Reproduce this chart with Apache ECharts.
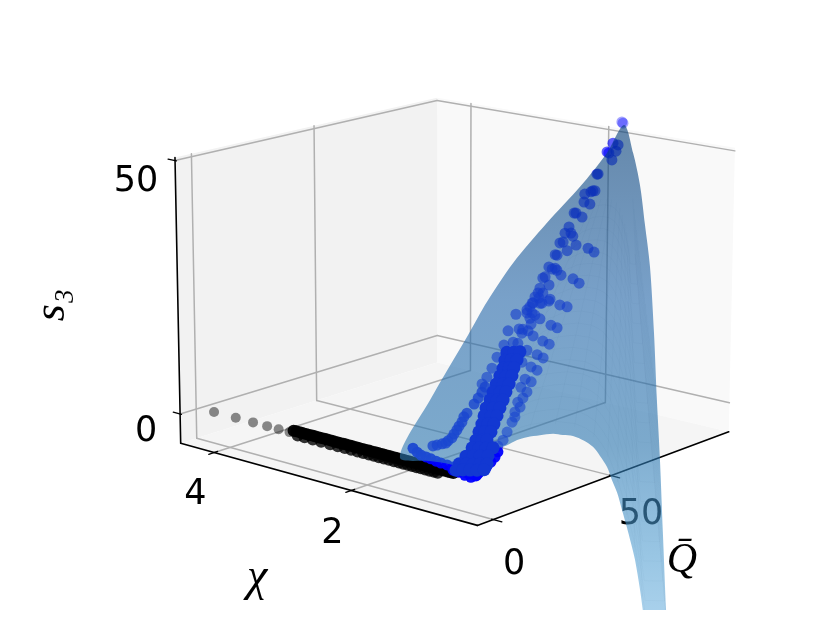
<!DOCTYPE html>
<html><head><meta charset="utf-8"><style>html,body{margin:0;background:#fff}#c{width:830px;height:623px}</style>
<script src="https://cdn.jsdelivr.net/npm/echarts@6/dist/echarts.min.js"></script></head><body><div id="c"></div>
<script>
// axis limits and ticks
const qLim=[-6.42,104.2], chiLim=[0.286,4.514], s3Lim=[-5.87,50.59];
const qTicks=[0,50], chiTicks=[2,4], s3Ticks=[0,50];
const qTickLabels=['0','50'], chiTickLabels=['2','4'], s3TickLabels=['0','50'];
// grey/black points: chi along the line Q≈1.3, s3≈0
const blackQ=1.3;
const blackSparseChi=[4.29,3.96,3.7,3.49,3.32,3.16];
const blackUpperChi=[3.1,3.06,3.01,2.97,2.92,2.88,2.83,2.79,2.74,2.7,2.65,2.61,2.56,2.52,2.47,2.43,2.38,2.34,2.29,2.25,2.2,2.16,2.11,2.07,2.02,1.98,1.93,1.89,1.84,1.8,1.75,1.71,1.66,1.62,1.57,1.53,1.48,1.44,1.39,1.35,1.3,1.26,1.21,1.17,1.12,1.08,1.03,0.99,0.94,0.9,0.86];
const blackLowerChi=[3.04,2.94,2.82,2.7,2.57,2.46,2.36,2.27,2.18,2.1,2.02,1.95,1.88,1.81,1.74,1.67,1.6,1.54,1.48,1.42,1.36,1.3,1.24,1.18,1.12,1.07];
// blue points
const apexQ=[98.9,99.4], apexS3=[52.9,52.6], apexChi=1.66;
const mainChi=1.1;
const mainQ=[76.2,78.5,77.6,73.6,74.4,75.8,69.2,69.7,67.5,66.6,68.4,63.9,63.6,66.2,60.1,62.8,59.3,57.1,55.4,58.0,58.8,
53.2,54.6,60.3,56.4,51.2,52.0,65.6,68.3,48.5,51.2,49.9,52.0,53.8,46.9,45.9,48.6,59.1,61.8,44.7,43.9,46.0,42.6,
44.3,49.1,41.8,45.6,53.4,56.6,40.4,39.2,41.4,44.8,48.6,34.5,39.2,41.4,42.6,40.5,44.8,41.0,49.6,52.3,35.9,37.5,
31.2,39.7,37.1,41.9,46.1,48.9,29.5,33.4,35.4,39.3,43.7,46.3,26.6,37.2,41.1,43.7,24.5,22.4,38.6,41.2,20.4,36.8,
39.4,35.5,37.7,34.3,36.5,33.1,34.3,31.0,29.3,27.1];
const mainS3=[52.6,52.0,50.9,51.2,50.9,49.4,47.4,47.4,44.4,44.3,44.3,44.2,42.7,42.0,41.0,39.9,41.1,38.7,37.7,37.4,36.7,
36.1,36.1,34.8,34.2,34.1,33.9,33.5,32.4,32.1,31.5,31.5,31.0,29.8,30.4,30.3,28.6,28.4,27.2,28.5,27.7,27.4,27.1,
26.7,25.8,26.1,25.5,24.1,23.3,25.5,25.1,26.1,25.6,25.5,24.9,24.5,24.2,23.6,23.3,22.6,22.1,20.7,19.8,21.9,21.6,
22.2,21.0,20.9,19.7,18.1,17.1,19.7,19.7,19.2,17.3,15.8,14.8,17.8,15.3,13.8,12.8,16.0,14.6,11.8,10.9,13.6,10.5,
9.2,7.8,8.3,6.1,6.7,4.3,5.1,2.7,1.4,0.6];
const chainChi=1.4;
const chainQ=[30.9,29.6,28.0,26.3,23.3,22.0,21.2,20.0,19.1,17.9,17.0,15.4,14.5,13.0,10.9,9.2];
const chainS3=[10.4,9.6,8.7,7.8,6.5,6.0,5.1,4.5,3.9,3.3,2.7,2.4,2.1,2.2,2.3,2.4];
const massChi=0.9;
const massQ=[24.5,27.4,30.0,23.7,26.3,28.8,22.9,25.5,27.5,21.6,24.2,26.7,20.1,23.0,25.5,18.8,21.7,24.2,17.6,20.5,23.0,
15.9,18.8,21.7,15.1,18.0,20.5,14.2,16.7,19.2,13.0,15.5,18.0,11.8,14.2,16.3,10.2,13.1,15.9,18.9,7.7,10.6,13.5,
16.8,4.9,7.7,10.6,13.5,16.4,3.6,6.4,9.3,12.2,15.2];
const massS3=[19.7,19.3,19.0,18.3,18.0,17.6,16.9,16.6,16.3,15.6,15.2,14.9,14.3,13.9,13.5,13.0,12.5,12.2,11.7,11.2,10.8,
10.4,9.9,9.5,9.0,8.5,8.2,7.6,7.2,6.8,6.3,5.9,5.5,4.9,4.5,4.2,3.7,3.2,2.7,2.3,2.5,2.1,1.6,1.1,1.5,1.0,0.5,0.1,-0.4,0.5,0.1,-0.4,-0.9,-1.3];
const frontChi=0.6;
const frontQ=[2.6,3.8,5.5,7.1,8.7,10.4,11.6];
const frontS3=[0.7,1.1,1.4,1.8,2.3,3.0,3.8];
const baseChi=[1.55,1.5,1.45,1.38,1.3,1.22,1.15,1.05,0.97,0.88,0.8,0.7,0.6,0.97,0.88,0.8,0.7];
const baseQ=[5.5,5.7,5.8,5.8,5.4,5.1,5.0,4.5,4.5,4.2,4.2,3.6,3.0,4.5,4.2,4.2,3.6];
const baseS3=[2.0,1.4,1.0,0.9,0.9,0.8,0.7,0.8,0.7,0.7,0.4,0.5,0.8,0.1,0.1,-0.2,-0.1];
// surface outline (closed), with its apex at index 36
const edgeChi=[1.66,1.35,1.05,.65,.55,.55,.55,.55,.55,.55,.55,.55,.55,.55,.55,.55,.55,.55,.55,.55,.55,.55,.55,.55,.55,.55,.55,.55,.6,.65,.7,.8,.9,1.05,1.2,1.4,1.66,1.66,1.66,1.66,1.66,1.66,1.66,1.66];
const edgeQ=[3.4,6.5,6.5,2.9,4.8,9.6,13.8,18.0,22.1,27.6,33.2,37.4,41.8,46.7,50.6,53.8,57.0,59.3,61.7,64.0,66.3,68.3,70.3,
72.8,74.3,76.4,86.3,85.2,84.8,84.5,84.4,86.0,87.1,89.6,92.1,95.5,99.9,92.2,80.1,65.5,50.7,39.7,31.6,15.8];
const edgeS3=[0.2,0.1,0.5,1.2,3.4,4.8,4.9,5.2,5.1,4.6,4.0,3.1,2.2,0.5,-1.3,-3.6,-6.3,-9.3,-12.2,-16.0,-19.8,-23.4,-27.2,
-33.7,-38.3,-44.7,-46.6,-40.3,-24.5,-9.2,2.2,15.0,27.6,35.2,42.4,47.8,52.2,47.5,42.2,36.9,30.9,24.9,19.5,9.3];

// view: where the corners of the axes box fall on the 830x623 figure (u,v,w -> px,py)
const boxView=[[0,0,0,477,525],[0,1,0,181,444],[1,0,0,729,432],[1,1,0,437,362],[0,1,1,175,157],[1,1,1,437,98],[1,0,1,735,148]];
function solve(A,b){const n=b.length;const M=A.map((r,i)=>[...r,b[i]]);for(let i=0;i<n;i++){let p=i;for(let r=i+1;r<n;r++)if(Math.abs(M[r][i])>Math.abs(M[p][i]))p=r;[M[i],M[p]]=[M[p],M[i]];for(let r=0;r<n;r++){if(r==i)continue;const f=M[r][i]/M[i][i];for(let c=i;c<=n;c++)M[r][c]-=f*M[i][c];}}return M.map((r,i)=>r[n]/r[i]);}
const rows=[],rhs=[];
boxView.forEach(([u,v,w,x,y])=>{rows.push([u,v,w,1,0,0,0,0,-x*u,-x*v,-x*w]);rhs.push(x);rows.push([0,0,0,0,u,v,w,1,-y*u,-y*v,-y*w]);rhs.push(y);});
const P=solve(Array.from({length:11},(_,i)=>Array.from({length:11},(_,j)=>rows.reduce((s,r)=>s+r[i]*r[j],0))),Array.from({length:11},(_,i)=>rows.reduce((s,r,k)=>s+r[i]*rhs[k],0)));
const pb=(u,v,w)=>{const d=P[8]*u+P[9]*v+P[10]*w+1;return [(P[0]*u+P[1]*v+P[2]*w+P[3])/d,(P[4]*u+P[5]*v+P[6]*w+P[7])/d];};
const toU=q=>(q-qLim[0])/(qLim[1]-qLim[0]), toV=c=>(c-chiLim[0])/(chiLim[1]-chiLim[0]), toW=s=>(s-s3Lim[0])/(s3Lim[1]-s3Lim[0]);
const pr=(q,c,s)=>pb(toU(q),toV(c),toW(s));
const pts=(Q,C,S)=>(Array.isArray(Q)?Q:C.map(()=>Q)).map((q,i)=>pr(q,Array.isArray(C)?C[i]:C,Array.isArray(S)?S[i]:S));

const chart=echarts.init(document.getElementById('c'),null,{renderer:'canvas'});
const layer=(z,build,clip)=>({type:'custom',coordinateSystem:'cartesian2d',z,clip:!!clip,silent:true,animation:false,data:[[0,0]],renderItem:(p,api)=>({type:'group',children:build(c=>api.coord(c))})});
const poly=(c,ps,fill,smooth)=>({type:'polygon',shape:{points:ps.map(c),smooth:smooth||0},style:{fill,stroke:null}});
const seg=(c,a,b,stroke,lw)=>{const A=c(a),B=c(b);return {type:'line',shape:{x1:A[0],y1:A[1],x2:B[0],y2:B[1]},style:{stroke,lineWidth:lw,lineCap:'round'}};};
const GRID='#b0b0b0',GW=1.5;
const panes=c=>[
 poly(c,[pb(0,1,0),pb(1,1,0),pb(1,1,1),pb(0,1,1)],'#f2f2f2'),
 poly(c,[pb(1,0,0),pb(1,1,0),pb(1,1,1),pb(1,0,1)],'#f9f9f9'),
 poly(c,[pb(0,0,0),pb(0,1,0),pb(1,1,0),pb(1,0,0)],'#f5f5f5')];
const grid=c=>{const o=[];
 qTicks.forEach(q=>{const u=toU(q);o.push(seg(c,pb(u,0,0),pb(u,1,0),GRID,GW),seg(c,pb(u,1,0),pb(u,1,1),GRID,GW));});
 chiTicks.forEach(x=>{const v=toV(x);o.push(seg(c,pb(0,v,0),pb(1,v,0),GRID,GW),seg(c,pb(1,v,0),pb(1,v,1),GRID,GW));});
 s3Ticks.forEach(s=>{const w=toW(s);o.push(seg(c,pb(0,1,w),pb(1,1,w),GRID,GW),seg(c,pb(1,1,w),pb(1,0,w),GRID,GW));});
 return o;};
const axes=c=>{const o=[seg(c,pb(0,0,0),pb(1,0,0),'#000',1.6),seg(c,pb(0,0,0),pb(0,1,0),'#000',1.6),seg(c,pb(0,1,0),pb(0,1,1),'#000',1.6)];
 qTicks.forEach(q=>{const u=toU(q);o.push(seg(c,pb(u,-.027,0),pb(u,.005,0),'#000',1.3));});
 chiTicks.forEach(x=>{const v=toV(x);o.push(seg(c,pb(-.02,v,0),pb(.012,v,0),'#000',1.3));});
 s3Ticks.forEach(s=>{const w=toW(s);o.push(seg(c,pb(0,1.025,w),pb(0,.995,w),'#000',1.3));});
 return o;};
const txt=(c,at,dx,dy,t,o={})=>{const A=c(at);return {type:'text',x:A[0]+dx,y:A[1]+dy,rotation:o.rot||0,style:{text:t,x:0,y:0,fill:'#000',fontSize:o.size||35,fontFamily:o.fam||'"DejaVu Sans"',fontStyle:o.style||'normal',align:'center',verticalAlign:'middle'}};};
const TICK_OFF={q:[[21,45],[30,39]],chi:[[-19,43],[-19,42]],s:[[-34,18],[-39,21]]};
const labels=c=>{const o=[];
 qTicks.forEach((q,i)=>o.push(txt(c,pb(toU(q),0,0),TICK_OFF.q[i][0],TICK_OFF.q[i][1],qTickLabels[i])));
 chiTicks.forEach((x,i)=>o.push(txt(c,pb(0,toV(x),0),TICK_OFF.chi[i][0],TICK_OFF.chi[i][1],chiTickLabels[i])));
 s3Ticks.forEach((s,i)=>o.push(txt(c,pb(0,1,toW(s)),TICK_OFF.s[i][0],TICK_OFF.s[i][1],s3TickLabels[i])));
 const F='"Liberation Serif"';
 o.push(txt(c,[682,561],0,0,'Q\u0304',{size:42,fam:F,style:'italic'}));
 o.push(txt(c,[257,578],0,0,'\u03c7',{size:46,fam:F,style:'italic'}));
 o.push(txt(c,[52,305],0,0,'s\u2083',{size:44,fam:F,style:'italic',rot:Math.PI/2}));
 return o;};
const edgePts=pts(edgeQ,edgeChi,edgeS3);
const surfaceFill=c=>{const top=c([0,125])[1],bot=c([0,610])[1];return new echarts.graphic.LinearGradient(0,top,0,bot,[
 {offset:0,color:'rgba(2,60,118,.6)'},{offset:.36,color:'rgba(35,102,169,.6)'},{offset:.66,color:'rgba(43,119,177,.6)'},{offset:.89,color:'rgba(85,160,210,.6)'},{offset:1,color:'rgba(110,177,222,.6)'}],true);};
const APEX=36;
const surface=c=>{const o=[poly(c,edgePts,surfaceFill(c),.3)];
 const at=(j,f)=>pr(edgeQ[APEX]+(edgeQ[j]-edgeQ[APEX])*f,edgeChi[APEX]+(edgeChi[j]-edgeChi[APEX])*f,edgeS3[APEX]+(edgeS3[j]-edgeS3[APEX])*f);
 const MESH='rgba(15,45,85,.04)';
 for(let k=7;k<=25;k++){const f=k/26,ps=[];for(let j=4;j<=30;j++)ps.push(c(at(j,f)));o.push({type:'polyline',shape:{points:ps},style:{stroke:MESH,lineWidth:.7,fill:null}});}
 for(let j=4;j<=26;j+=2){o.push(seg(c,at(j,.25),at(j,.97),MESH,.7));}
 return o;};
const scatter=(name,data,color,op,z,size)=>({name,type:'scatter',z,data,symbolSize:size||11,silent:true,animation:false,clip:false,itemStyle:{color,opacity:op}});
const blackRowS3=0.5, blackLowS3=-0.25;
chart.setOption({animation:false,
 grid:{left:0,right:0,top:0,bottom:13},
 xAxis:{type:'value',min:0,max:830,show:false},
 yAxis:{type:'value',min:0,max:610,inverse:true,show:false},
 series:[
  layer(1,panes),layer(2,grid),layer(3,axes),layer(3,labels),
  scatter('sparse',pts(blackQ,blackSparseChi,0),'#000',.45,4,10),
  scatter('lower',pts(blackQ,blackLowerChi,blackLowS3),'#000',.8,4,12),
  scatter('upper',pts(blackQ,blackUpperChi,blackRowS3),'#000',.95,4,12),
  scatter('apex',pts(apexQ,apexChi,apexS3),'#0000ff',.35,5),
  scatter('main',pts(mainQ,mainChi,mainS3),'#0000ff',.62,5),
  scatter('chain',pts(chainQ,chainChi,chainS3),'#0000ff',.8,5),
  scatter('base',pts(baseQ,baseChi,baseS3),'#0000ff',.95,5),
  scatter('front',pts(frontQ,frontChi,frontS3),'#0000ff',.95,5),
  layer(6,surface,true),
  scatter('mass',pts(massQ,massChi,massS3),'#1238d2',1,7,13)
 ]});
</script></body></html>
